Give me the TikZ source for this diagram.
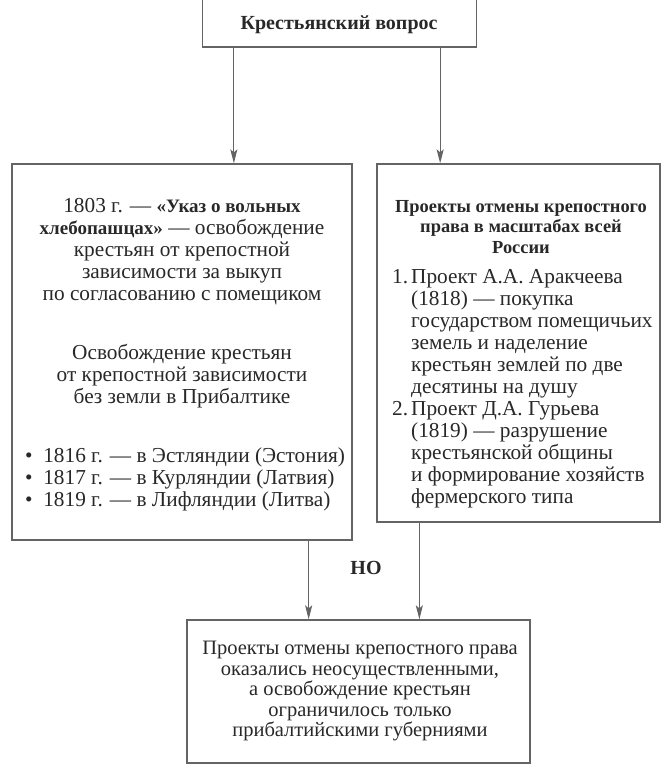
\documentclass[tikz,border=0pt]{standalone}
\usepackage{fontspec}
\setmainfont{Liberation Serif}
\usetikzlibrary{arrows.meta,positioning}
\definecolor{C_line}{RGB}{100,100,100}
\definecolor{C_text}{RGB}{40,40,40}

\begin{document}
\begin{tikzpicture}[
    x=1pt, y=-1pt,
    font=\fontsize{21.3}{22}\selectfont,
    box/.style={draw=C_line, rectangle, line width=1.3pt, inner sep=0pt},
    txt/.style={text=C_text, align=center, inner sep=0pt},
    link/.style={-{Stealth[length=14pt,width=7pt,inset=3pt]}, draw=C_line, line width=1.2pt},
]
\useasboundingbox (0,0) rectangle (665,765);
\clip (0,0) rectangle (665,765);

% Boxes (centres and sizes in px of the page)
\node[box, minimum width=274pt, minimum height=58pt] (Q) at (339.5,18) {};
\node[box, minimum width=340pt, minimum height=376pt] (L) at (182,352) {};
\node[box, minimum width=283pt, minimum height=358pt] (R) at (518.5,343) {};
\node[box, minimum width=343pt, minimum height=143pt] (B) at (358.5,691.5) {};

% Top box text
\node[txt, font=\fontsize{20}{22}\selectfont\bfseries] (Qt) at (339,25) {Крестьянский вопрос};

% Left box texts
\node[txt] (L1) at (182,252) {1803 г. — {\fontsize{19}{22}\selectfont\bfseries«Указ о вольных}\\
  {\fontsize{19}{22}\selectfont\bfseries хлебопашцах»} — освобождение\\ крестьян от крепостной\\
  зависимости за выкуп\\ по согласованию с помещиком};
\node[txt] (L2) at (182,376) {Освобождение крестьян\\ от крепостной зависимости\\
  без земли в Прибалтике};
\node[txt, align=left, anchor=west] (L3) at (25,479) {%
  \textbullet\ \ 1816 г. — в Эстляндии (Эстония)\\
  \textbullet\ \ 1817 г. — в Курляндии (Латвия)\\
  \textbullet\ \ 1819 г. — в Лифляндии (Литва)};

% Right box texts
\node[txt, font=\fontsize{18.4}{20.5}\selectfont\bfseries] (Rt) at (521,227) {Проекты отмены крепостного\\
  права в масштабах всей\\ России};
\node[txt, anchor=west] (Rl) at (392,389) {%
  \begin{tabular}{@{}r@{\hspace{3pt}}l@{}}
  1. & Проект А.А. Аракчеева\\
     & (1818) — покупка\\
     & государством помещичьих\\
     & земель и наделение\\
     & крестьян землей по две\\
     & десятины на душу\\
  2. & Проект Д.А. Гурьева\\
     & (1819) — разрушение\\
     & крестьянской общины\\
     & и формирование хозяйств\\
     & фермерского типа
  \end{tabular}};

% Bottom box text
\node[txt, font=\fontsize{20.5}{20.5}\selectfont] (Bt) at (360,691) {Проекты отмены крепостного права\\
  оказались неосуществленными,\\ а освобождение крестьян\\
  ограничилось только\\ прибалтийскими губерниями};
\node[txt, font=\fontsize{20}{22}\selectfont\bfseries] (no) at (366,568) {НО};

% Arrows
\draw[link] ([xshift=32pt]Q.south west) -- ([xshift=32pt]Q.south west |- L.north);
\draw[link] ([xshift=-37pt]Q.south east) -- ([xshift=-37pt]Q.south east |- R.north);
\draw[link] ([xshift=-44pt]L.south east) -- ([xshift=-44pt]L.south east |- B.north);
\draw[link] ([xshift=43pt]R.south west) -- ([xshift=43pt]R.south west |- B.north);
\end{tikzpicture}
\end{document}
